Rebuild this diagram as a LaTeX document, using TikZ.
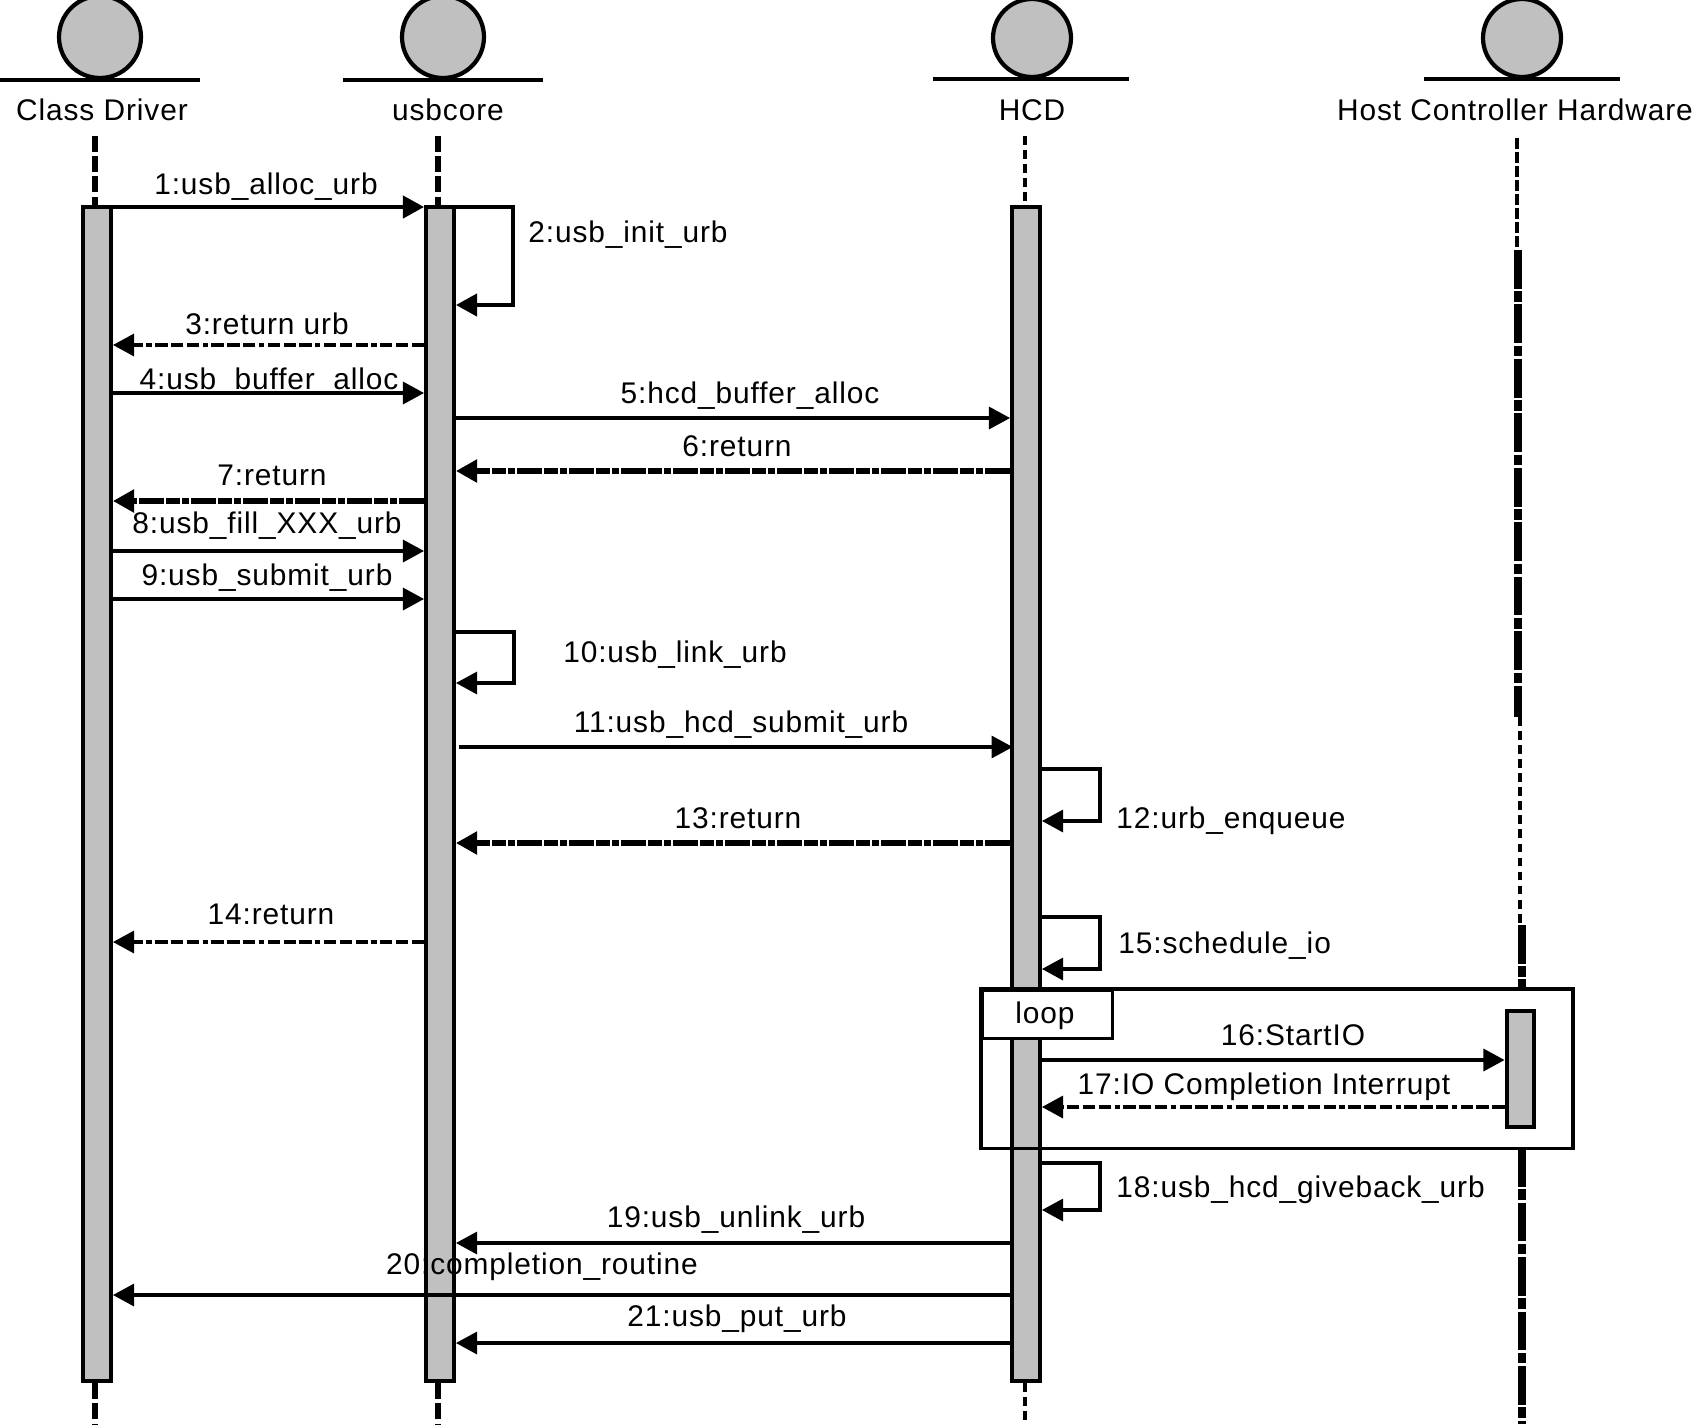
\documentclass[tikz,border=0pt]{standalone}
\usepackage{fontspec}
\setmainfont[LetterSpace=3]{Liberation Sans}
\definecolor{bar-gray}{RGB}{192,192,192}
\usetikzlibrary{arrows.meta, backgrounds, positioning}

\begin{document}
\begin{tikzpicture}[
    x=0.02cm, y=-0.02cm,
    actor/.style={circle, draw=black, fill=bar-gray, line width=2.4pt, minimum size=1.64cm, inner sep=0pt},
    base/.style={line width=2.2pt},
    lbl/.style={font=\fontsize{17}{20}\selectfont, anchor=base, inner sep=0pt, yshift=-0.02cm},
    lbleast/.style={lbl, anchor=base west},
    bar/.style={rectangle, draw=black, fill=bar-gray, line width=2.5pt, minimum width=0.55cm, inner sep=0pt},
    lifeline/.style={line width=3.4pt, dash pattern=on 9pt off 2.5pt},
    lifethin/.style={line width=1.8pt, dash pattern=on 5pt off 3pt},
    lifeheavy/.style={line width=4.5pt, dash pattern=on 22pt off 1.5pt on 6pt off 1.5pt},
    msg/.style={-{Triangle[length=12pt,width=12.5pt]}, line width=1.9pt},
    ret/.style={msg, dash pattern=on 7pt off 2pt on 7pt off 2pt on 7pt off 2pt on 3pt off 2pt},
    retheavy/.style={msg, line width=3.8pt, dash pattern=on 14pt off 1.2pt on 4pt off 1.2pt on 8pt off 1.2pt},
    frameline/.style={line width=1.9pt}
]
\useasboundingbox (0,0) rectangle (1694,1424);

% Actors
\node[actor] (actor1) at (100,37) {};
\node[actor] (actor2) at (443,37) {};
\node[actor, minimum size=1.56cm] (actor3) at (1032,38) {};
\node[actor, minimum size=1.56cm] (actor4) at (1522,38) {};
\draw[base] (actor1.south) ++(-100,0) -- ++(200,0);
\draw[base] (actor2.south) ++(-100,0) -- ++(200,0);
\draw[base] (actor3.south) ++(-99,0) -- ++(196,0);
\draw[base] (actor4.south) ++(-98,0) -- ++(196,0);

% Names
\node[lbl] (name1) at (102,119) {Class Driver};
\node[lbl] (name2) at (448,119) {usbcore};
\node[lbl] (name3) at (1032,119) {HCD};
\node[lbl] (name4) at (1515,119) {Host Controller Hardware};

% Loop frame, behind the bars
\node[fill=white, frameline, minimum width=11.78cm, minimum height=3.12cm, inner sep=0pt] (frame) at (1277,1068.5) {};

% Bars
\node[bar, minimum height=23.48cm] (bar1) at (97,794) {};
\node[bar, minimum height=23.48cm] (bar2) at (440,794) {};
\node[bar, minimum height=23.48cm] (bar3) at (1026,794) {};
\node[bar, minimum height=2.32cm] (bar4) at (1520.5,1069) {};

% Frame edge and tab
\draw[frameline] (frame.north west) rectangle (frame.south east);
\node[draw=black, fill=white, frameline, minimum width=2.6cm, minimum height=0.96cm, inner sep=0pt, below right=0pt and 0pt of frame.north west] (tab) {};
\node[lbl] (looplbl) at (1045,1022) {loop};

% Rows
\coordinate (m1) at (0,207);
\coordinate (m2) at (0,305);
\coordinate (m3) at (0,345);
\coordinate (m4) at (0,393);
\coordinate (m5) at (0,418);
\coordinate (m6) at (0,471);
\coordinate (m7) at (0,501);
\coordinate (m8) at (0,551);
\coordinate (m9) at (0,599);
\coordinate (m10a) at (0,632);
\coordinate (m10b) at (0,683);
\coordinate (m11) at (0,747);
\coordinate (m12a) at (0,769);
\coordinate (m12b) at (0,821);
\coordinate (m13) at (0,843);
\coordinate (m14) at (0,942);
\coordinate (m15a) at (0,917);
\coordinate (m15b) at (0,969);
\coordinate (m16) at (0,1060);
\coordinate (m17) at (0,1107);
\coordinate (m18a) at (0,1163);
\coordinate (m18b) at (0,1210);
\coordinate (m19) at (0,1243);
\coordinate (m20) at (0,1295);
\coordinate (m21) at (0,1343);

% Lifeline ends
\coordinate (top1) at (95,136);
\coordinate (top2) at (438,136);
\coordinate (top3) at (1025,136);
\coordinate (top4) at (1517,138);
\coordinate (end1) at (95,1424);
\coordinate (end2) at (438,1424);
\coordinate (end3) at (1025,1424);
\coordinate (end4) at (1522,1424);
\coordinate (h4a) at (1518,250);
\coordinate (h4b) at (1518,717);
\coordinate (t4a) at (1520,717);
\coordinate (t4b) at (1520,925);
\coordinate (h4c) at (1522,925);

% Lifelines
\begin{pgfonlayer}{background}
\draw[lifeline] (top1) -- (bar1.north -| top1);
\draw[lifeline] (top2) -- (bar2.north -| top2);
\draw[lifethin] (top3) -- (bar3.north -| top3);
\draw[lifeline, line width=2.8pt, dash pattern=on 6pt off 2pt] (top4) -- (top4 |- h4a);
\draw[lifeheavy] (h4a) -- (h4b);
\draw[lifethin] (t4a) -- (t4b);
\draw[lifeheavy] (h4c) -- (frame.north -| h4c);
\draw[lifeheavy] (frame.south -| end4) -- (end4);
\draw[lifeline] (bar1.south -| end1) -- (end1);
\draw[lifeline] (bar2.south -| end2) -- (end2);
\draw[lifethin] (bar3.south -| end3) -- (end3);
\end{pgfonlayer}

% Messages
\draw[msg, line width=2.4pt] (top1 |- m1) -- (bar2.west |- m1);
\draw[msg, line width=2.4pt] (top2 |- m1) -- ++(75,0) |- (bar2.east |- m2);
\draw[ret] (bar2.west |- m3) -- (bar1.east |- m3);
\draw[msg] (bar1.east |- m4) -- (bar2.west |- m4);
\draw[msg] (bar2.east |- m5) -- (bar3.west |- m5);
\draw[retheavy] (bar3.west |- m6) -- (bar2.east |- m6);
\draw[retheavy] (bar2.west |- m7) -- (bar1.east |- m7);
\draw[msg] (bar1.east |- m8) -- (bar2.west |- m8);
\draw[msg] (bar1.east |- m9) -- (bar2.west |- m9);
\draw[msg] (bar2.east |- m10a) -- ++(58,0) |- (bar2.east |- m10b);
\draw[msg, shorten <=2pt, shorten >=-1.5pt] (bar2.east |- m11) -- (bar3.west |- m11);
\draw[msg] (bar3.east |- m12a) -- ++(58,0) |- (bar3.east |- m12b);
\draw[retheavy] (bar3.west |- m13) -- (bar2.east |- m13);
\draw[ret] (bar2.west |- m14) -- (bar1.east |- m14);
\draw[msg] (bar3.east |- m15a) -- ++(58,0) |- (bar3.east |- m15b);
\draw[msg] (bar3.east |- m16) -- (bar4.west |- m16);
\draw[ret] (bar4.west |- m17) -- (bar3.east |- m17);
\draw[msg] (bar3.east |- m18a) -- ++(58,0) |- (bar3.east |- m18b);
\draw[msg] (bar3.west |- m19) -- (bar2.east |- m19);
\draw[msg] (bar3.west |- m20) -- (bar1.east |- m20);
\draw[msg] (bar3.west |- m21) -- (bar2.east |- m21);

% Labels
\node[lbl] (l1) at (266,193) {1:usb\_alloc\_urb};
\node[lbleast] (l2) at (528,241) {2:usb\_init\_urb};
\node[lbl] (l3) at (267,333) {3:return urb};
\node[lbl] (l4) at (269,388) {4:usb\_buffer\_alloc};
\node[lbl] (l5) at (750,402) {5:hcd\_buffer\_alloc};
\node[lbl] (l6) at (737,455) {6:return};
\node[lbl] (l7) at (272,484) {7:return};
\node[lbl] (l8) at (267,532) {8:usb\_fill\_XXX\_urb};
\node[lbl] (l9) at (267,584) {9:usb\_submit\_urb};
\node[lbl] (l10) at (675,661) {10:usb\_link\_urb};
\node[lbl] (l11) at (741,731) {11:usb\_hcd\_submit\_urb};
\node[lbleast] (l12) at (1116,827) {12:urb\_enqueue};
\node[lbl] (l13) at (738,827) {13:return};
\node[lbl] (l14) at (271,923) {14:return};
\node[lbleast] (l15) at (1118,952) {15:schedule\_io};
\node[lbl] (l16) at (1293,1044) {16:StartIO};
\node[lbl] (l17) at (1264,1093) {17:IO Completion Interrupt};
\node[lbleast] (l18) at (1116,1196) {18:usb\_hcd\_giveback\_urb};
\node[lbl] (l19) at (736,1226) {19:usb\_unlink\_urb};
\node[lbl] (l20) at (542,1273) {20:completion\_routine};
\node[lbl] (l21) at (737,1325) {21:usb\_put\_urb};

\end{tikzpicture}
\end{document}
